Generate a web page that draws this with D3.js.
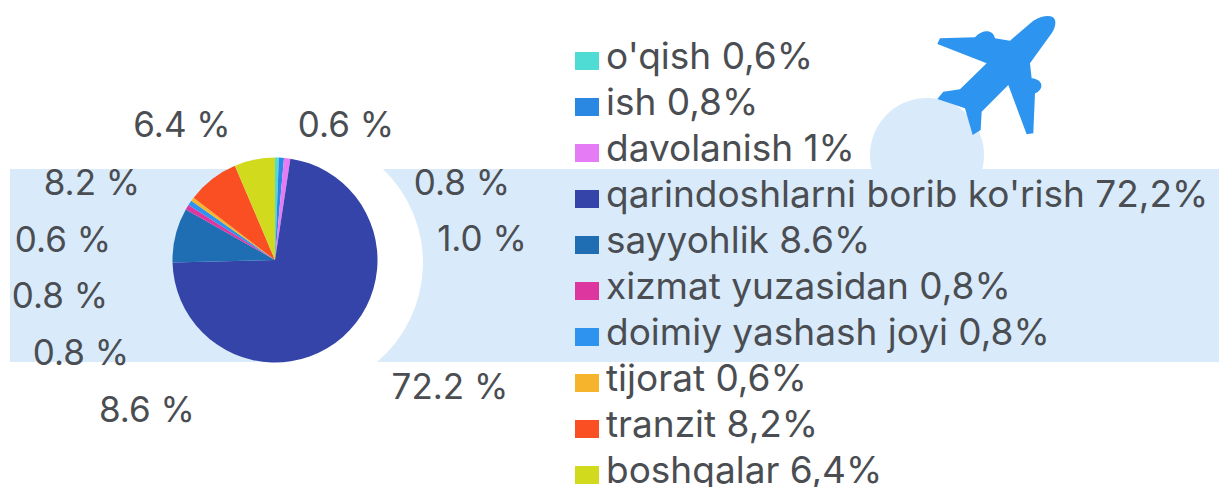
<!DOCTYPE html>
<html><head><meta charset="utf-8">
<script src="https://cdn.jsdelivr.net/npm/d3@7"></script>
<style>html,body{margin:0;background:#fff}svg{display:block}text{font-family:Inter,"Open Sans",sans-serif;fill:#4a4d52}</style>
</head><body><svg id="c" width="1219" height="487"></svg>
<script>
const categories=["o'qish","ish","davolanish","qarindoshlarni borib ko'rish","sayyohlik","xizmat yuzasidan","doimiy yashash joyi","tijorat","tranzit","boshqalar"];
const values=[0.6,0.8,1.0,72.2,8.6,0.8,0.8,0.6,8.2,6.4];
const legendValues=["0,6%","0,8%","1%","72,2%","8.6%","0,8%","0,8%","0,6%","8,2%","6,4%"];
const colors=["#4fdcd4","#2a87e2","#e57cf5","#3444a8","#1f6db2","#dd379f","#2d93ee","#f6b42c","#fa4f22","#d2da1e"];
const sliceLabels=["0.6 %","0.8 %","1.0 %","72.2 %","8.6 %","0.8 %","0.8 %","0.6 %","8.2 %","6.4 %"];
const labelX=[346,462,482,450,147,81,60,63,92,182];
const labelY=[124,182,238,386,409,352,295,239,182,124];

const svg=d3.select("#c");
const cx=275,cy=260,r=102.5;
svg.append("circle").attr("cx",927).attr("cy",155).attr("r",57).attr("fill","#d9eafa");
svg.append("rect").attr("x",10).attr("y",169).attr("width",1209).attr("height",193).attr("fill","#d9eafa");
svg.append("path").attr("d","M275,160 L383,169 A130,130 0 0 1 377,362 L275,362 Z").attr("fill","#fff");
svg.append("path").attr("transform","translate(860,0) scale(0.3333)").attr("fill","#2d95f0")
 .attr("d","M585,60 C580,45 555,42 520,62 L450,122 L405,115 C400,90 370,85 345,112 L240,115 L232,132 L380,190 L300,268 L250,275 L232,297 L315,325 L338,405 L362,390 L365,335 L445,255 L500,403 L520,400 L525,280 C552,270 552,238 515,235 L510,190 L575,100 C585,85 588,70 585,60 Z");

const pie=d3.pie().sort(null).value(d=>d)(values);
const arc=d3.arc().innerRadius(0).outerRadius(r);
svg.append("g").attr("transform",`translate(${cx},${cy})`).selectAll("path").data(pie).join("path")
 .attr("d",arc).attr("fill",(d,i)=>colors[i]);

svg.append("g").selectAll("text").data(sliceLabels).join("text")
 .attr("x",(d,i)=>labelX[i]).attr("y",(d,i)=>labelY[i]+13).attr("text-anchor","middle")
 .attr("font-size",35).text(d=>d);

const y=d3.scalePoint().domain(categories).range([61,475]);
const leg=svg.append("g").selectAll("g").data(categories).join("g").attr("transform",d=>`translate(0,${y(d)})`);
leg.append("rect").attr("x",575).attr("y",-9).attr("width",24).attr("height",18).attr("fill",(d,i)=>colors[i]);
leg.append("text").attr("x",606).attr("y",8).attr("font-size",37).text((d,i)=>d+" "+legendValues[i]);
</script></body></html>
